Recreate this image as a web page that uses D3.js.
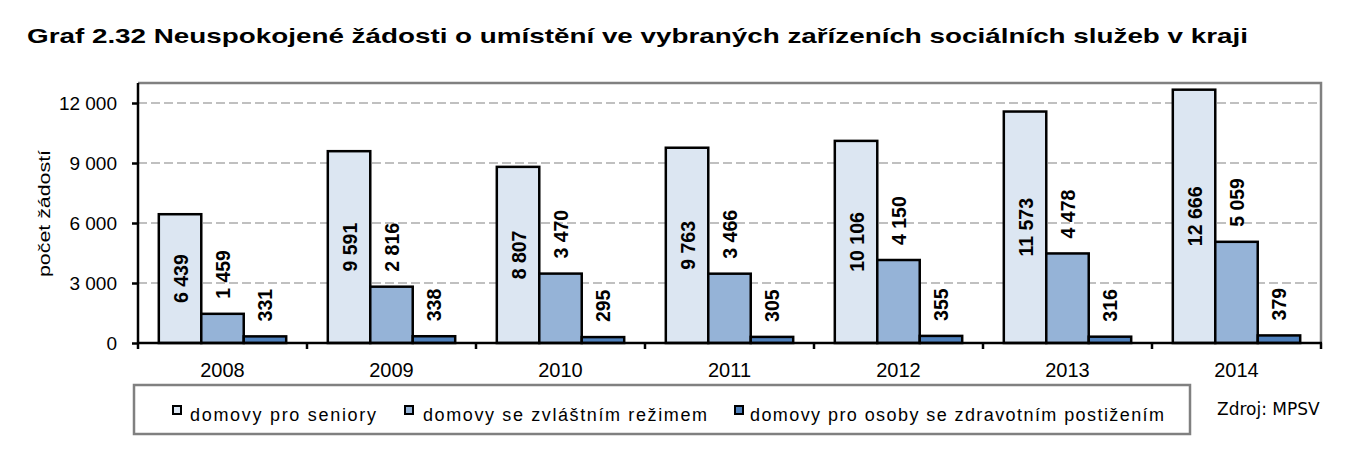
<!DOCTYPE html>
<html><head><meta charset="utf-8">
<script src="https://cdn.jsdelivr.net/npm/d3@7"></script>
<style>
body{margin:0;background:#fff;}
svg{display:block;}
text{font-family:"Liberation Sans",Arial,sans-serif;fill:#000;}
</style></head>
<body><svg id="c" width="1367" height="465"></svg>
<script>
const years = ["2008","2009","2010","2011","2012","2013","2014"];
const seriesNames = ["domovy pro seniory","domovy se zvláštním režimem","domovy pro osoby se zdravotním postižením"];
const seniory = [6439, 9591, 8807, 9763, 10106, 11573, 12666];
const zvlastni = [1459, 2816, 3470, 3466, 4150, 4478, 5059];
const postizeni = [331, 338, 295, 305, 355, 316, 379];
const yTicks = [0, 3000, 6000, 9000, 12000];
const colors = ["#dce6f2", "#95b3d7", "#4f81bd"];
const titleText = "Graf 2.32 Neuspokojené žádosti o umístění ve vybraných zařízeních sociálních služeb v kraji";
const yLabel = "počet žádostí";
const sourceText = "Zdroj: MPSV";

const seriesVals = [seniory, zvlastni, postizeni];
const svg = d3.select("#c");
const L = 138, R = 1321, T = 83, B = 343;
const loc = d3.formatLocale({decimal: ",", thousands: "\u00a0", grouping: [3], currency: ["", ""]});
const fmt = loc.format(",d");

const x = d3.scaleBand().domain(years).range([L, R]).padding(0);
const xi = d3.scaleBand().domain(d3.range(3)).range([0, x.bandwidth()]).paddingInner(0).paddingOuter(0.49);
const y = d3.scaleLinear().domain([0, 13000]).range([B, T]);

// title
svg.append("text").attr("x", 27).attr("y", 43)
  .attr("font-size", 21).attr("font-weight", "bold")
  .attr("textLength", 1221).attr("lengthAdjust", "spacingAndGlyphs").text(titleText);

// gridlines
svg.append("g").selectAll("line").data(yTicks.filter(d => d > 0)).join("line")
  .attr("x1", L).attr("x2", R).attr("y1", d => y(d)).attr("y2", d => y(d))
  .attr("stroke", "#c0c0c0").attr("stroke-width", 2).attr("stroke-dasharray", "9,4");

// plot border (top, right)
svg.append("path").attr("d", `M${L},${T}H${R}V${B}`).attr("fill", "none")
  .attr("stroke", "#808080").attr("stroke-width", 2.5);

// bars
const data = [];
years.forEach((yr, i) => seriesVals.forEach((arr, s) => data.push({yr, s, v: arr[i]})));
svg.append("g").selectAll("rect").data(data).join("rect")
  .attr("x", d => x(d.yr) + xi(d.s)).attr("width", xi.bandwidth())
  .attr("y", d => y(d.v)).attr("height", d => y(0) - y(d.v))
  .attr("fill", d => colors[d.s]).attr("stroke", "#000").attr("stroke-width", 2.5);

// bar labels
svg.append("g").selectAll("text").data(data).join("text")
  .attr("transform", d => {
    const cx = x(d.yr) + xi(d.s) + xi.bandwidth() / 2 + 7.5;
    const cy = d.s === 0 ? (y(d.v) + y(0)) / 2 : y(d.v) - 15;
    return `translate(${cx},${cy}) rotate(-90) scale(1,1.05)`;
  })
  .attr("text-anchor", d => d.s === 0 ? "middle" : "start")
  .attr("font-size", 19.5).attr("font-weight", "bold")
  .text(d => fmt(d.v));

// axes
const yAxis = d3.axisLeft(y).tickValues(yTicks).tickSize(6).tickFormat(d => fmt(d));
const gy = svg.append("g").attr("transform", `translate(${L},0)`).call(yAxis);
gy.select(".domain").remove();
gy.selectAll(".tick line").attr("stroke", "#000").attr("stroke-width", 2.5);
gy.selectAll(".tick text").attr("font-size", 19).attr("x", -21).attr("dy", "0.35em")
  .style("font-family", '"Liberation Sans",Arial,sans-serif');
svg.append("line").attr("x1", L).attr("x2", L).attr("y1", T).attr("y2", B + 6)
  .attr("stroke", "#000").attr("stroke-width", 2.5);

const xAxis = d3.axisBottom(x).tickSize(0).tickPadding(0);
const gx = svg.append("g").attr("transform", `translate(0,${B})`).call(xAxis);
gx.select(".domain").remove();
gx.selectAll(".tick text").attr("font-size", 20).attr("y", 34).attr("dy", 0)
  .style("font-family", '"Liberation Sans",Arial,sans-serif');
svg.append("line").attr("x1", L).attr("x2", R + 1).attr("y1", B).attr("y2", B)
  .attr("stroke", "#000").attr("stroke-width", 2.5);
svg.append("g").selectAll("line").data(years).join("line")
  .attr("x1", d => x(d) + x.bandwidth()).attr("x2", d => x(d) + x.bandwidth())
  .attr("y1", B).attr("y2", B + 6).attr("stroke", "#000").attr("stroke-width", 2.5);

// y label
svg.append("text").attr("transform", "translate(50,213.5) rotate(-90)")
  .attr("x", -63.5).attr("font-size", 16)
  .attr("textLength", 127).attr("lengthAdjust", "spacingAndGlyphs")
  .text(yLabel);

// legend
svg.append("rect").attr("x", 134).attr("y", 385).attr("width", 1056).attr("height", 49)
  .attr("fill", "#fff").attr("stroke", "#808080").attr("stroke-width", 2.5);
const legX = [173, 405, 735];
const legW = [186, 284, 414];
const lg = svg.append("g").selectAll("g").data(seriesNames).join("g")
  .attr("transform", (d, i) => `translate(${legX[i]},410)`);
lg.append("rect").attr("x", 0).attr("y", -4).attr("width", 8).attr("height", 8)
  .attr("fill", (d, i) => colors[i]).attr("stroke", "#000").attr("stroke-width", 2);
lg.append("text").attr("x", (d, i) => i === 0 ? 17 : (i === 1 ? 18 : 15)).attr("y", 11)
  .attr("font-size", 18)
  .attr("textLength", (d, i) => legW[i]).attr("lengthAdjust", "spacing").text(d => d);

// source
svg.append("text").attr("x", 1217).attr("y", 415)
  .style("font-family", '"DejaVu Sans",Verdana,sans-serif').attr("font-size", 17)
  .text(sourceText);
</script></body></html>
